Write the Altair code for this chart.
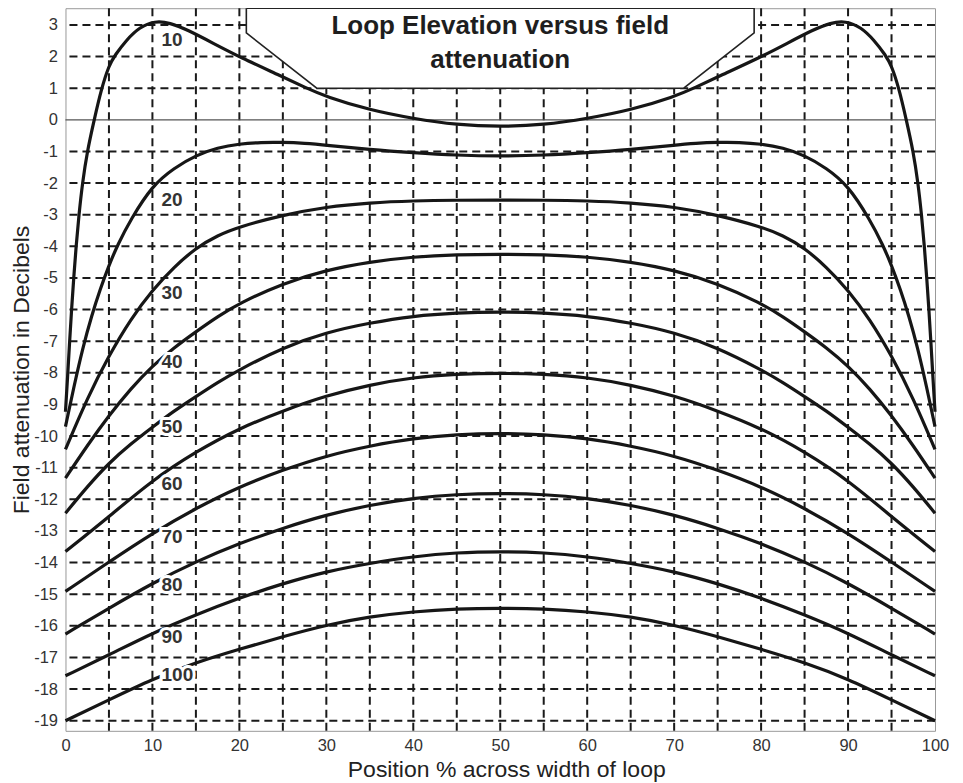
import altair as alt
import pandas as pd

# ---------------- data ----------------
X_10 = [0, 0.25, 0.48, 0.7, 0.95, 1.22, 1.55, 1.95, 2.5, 3.3, 4.15, 5, 5.7, 7, 8.5, 10.3, 12, 14, 17, 20,
        25, 27.5, 30, 35, 40, 45, 50, 55, 60, 65, 70, 72.5, 75, 80, 83, 86, 88, 89.7, 91.5, 93, 94.3, 95,
        95.85, 96.7, 97.5, 98.05, 98.45, 98.78, 99.05, 99.3, 99.52, 99.75, 100]
Y_10 = [-9.23, -8.1, -7, -6, -5, -4, -3, -2, -1, 0, 1, 1.72, 2.05, 2.52, 2.93, 3.13, 3.07, 2.85, 2.42, 1.99,
        1.36, 1.03, 0.73, 0.31, 0.04, -0.16, -0.22, -0.16, 0.04, 0.31, 0.73, 1.03, 1.36, 1.99, 2.42, 2.85,
        3.07, 3.13, 2.93, 2.52, 2.05, 1.72, 1, 0, -1, -2, -3, -4, -5, -6, -7, -8.1, -9.23]

X_20 = [0, 1, 2, 3, 4, 5, 6, 7.5, 10, 12.5, 15, 17.5, 20, 22.5, 25, 27.5, 30, 35, 40, 45, 50,
        55, 60, 65, 70, 72.5, 75, 77.5, 80, 82.5, 85, 87.5, 90, 92.5, 94, 95, 96, 97, 98, 99, 100]
Y_20 = [-9.70, -8.4, -7.2, -6.2, -5.35, -4.6, -3.95, -3.15, -2.07, -1.52, -1.12, -0.88, -0.76, -0.71,
        -0.71, -0.74, -0.80, -0.94, -1.04, -1.12, -1.15, -1.12, -1.04, -0.94, -0.80, -0.74, -0.71, -0.71,
        -0.76, -0.88, -1.12, -1.52, -2.07, -3.15, -3.95, -4.6, -5.35, -6.2, -7.2, -8.4, -9.70]

X_FINE = [0, 2.5, 5, 7.5, 10, 12.5, 15, 17.5, 20, 25, 30, 35, 40, 45, 50,
          55, 60, 65, 70, 75, 80, 82.5, 85, 87.5, 90, 92.5, 95, 97.5, 100]
Y_30 = [-10.42, -8.8, -7.45, -6.3, -5.38, -4.65, -4.05, -3.65, -3.38, -3.01, -2.75, -2.62, -2.56, -2.54,
        -2.54, -2.54, -2.56, -2.62, -2.75, -3.01, -3.38, -3.65, -4.05, -4.65, -5.38, -6.3, -7.45, -8.8, -10.42]
Y_40 = [-11.33, -10.3, -9.35, -8.5, -7.78, -7.2, -6.7, -6.22, -5.8, -5.17, -4.75, -4.49, -4.33, -4.26,
        -4.25, -4.26, -4.33, -4.49, -4.75, -5.17, -5.8, -6.22, -6.7, -7.2, -7.78, -8.5, -9.35, -10.3, -11.33]
Y_50 = [-12.44, -11.6, -10.85, -10.25, -9.72, -9.2, -8.75, -8.3, -7.9, -7.2, -6.72, -6.42, -6.2, -6.1,
        -6.07, -6.1, -6.2, -6.42, -6.72, -7.2, -7.9, -8.3, -8.75, -9.2, -9.72, -10.25, -10.85, -11.6, -12.44]

X_FIVE = [0, 5, 10, 15, 20, 25, 30, 35, 40, 45, 50, 55, 60, 65, 70, 75, 80, 85, 90, 95, 100]
Y_60 = [-13.65, -12.55, -11.39, -10.49, -9.75, -9.2, -8.72, -8.38, -8.14, -8.04, -8.01,
        -8.04, -8.14, -8.38, -8.72, -9.2, -9.75, -10.49, -11.39, -12.55, -13.65]
Y_70 = [-14.91, -13.98, -13.07, -12.28, -11.60, -11.07, -10.62, -10.31, -10.07, -9.95, -9.91,
        -9.95, -10.07, -10.31, -10.62, -11.07, -11.60, -12.28, -13.07, -13.98, -14.91]
Y_80 = [-16.26, -15.44, -14.65, -13.97, -13.39, -12.91, -12.49, -12.18, -11.96, -11.84, -11.81,
        -11.84, -11.96, -12.18, -12.49, -12.91, -13.39, -13.97, -14.65, -15.44, -16.26]
Y_90 = [-17.58, -16.92, -16.23, -15.65, -15.12, -14.66, -14.28, -14.02, -13.81, -13.68, -13.65,
        -13.68, -13.81, -14.02, -14.28, -14.66, -15.12, -15.65, -16.23, -16.92, -17.58]
Y_100 = [-19.0, -18.34, -17.68, -17.16, -16.74, -16.34, -15.97, -15.71, -15.55, -15.46, -15.44,
         -15.46, -15.55, -15.71, -15.97, -16.34, -16.74, -17.16, -17.68, -18.34, -19.0]

CURVE_NAMES = ["10", "20", "30", "40", "50", "60", "70", "80", "90", "100"]
CURVE_X = [X_10, X_20, X_FINE, X_FINE, X_FINE, X_FIVE, X_FIVE, X_FIVE, X_FIVE, X_FIVE]
CURVE_Y = [Y_10, Y_20, Y_30, Y_40, Y_50, Y_60, Y_70, Y_80, Y_90, Y_100]

LABEL_X = 11.05
LABEL_Y = [2.52, -2.52, -5.49, -7.65, -9.70, -11.50, -13.18, -14.71, -16.34, -17.55]

X_TICKS = [0, 10, 20, 30, 40, 50, 60, 70, 80, 90, 100]
Y_TICKS = list(range(-19, 4))
X_GRID = [5, 10, 15, 20, 25, 30, 35, 40, 45, 50, 55, 60, 65, 70, 75, 80, 85, 90, 95]
Y_GRID = [v for v in Y_TICKS if v != 0]

TITLE_LINES = ["Loop Elevation versus field", "attenuation"]
TITLE_Y = [2.71, 1.635]

Y_MIN, Y_MAX = -19.32, 3.53
BOX_X = [20.8, 28.9, 71.1, 79.2]
BOX_BOTTOM = [2.75, 1.0, 1.0, 2.75]
OUTLINE_X = [20.8, 20.8, 28.9, 71.1, 79.2, 79.2, 20.8]
OUTLINE_Y = [Y_MAX, 2.75, 1.0, 1.0, 2.75, Y_MAX, Y_MAX]

FONT = "Liberation Sans"

# ---------------- tables ----------------
rows = []
for name, xs, ys in zip(CURVE_NAMES, CURVE_X, CURVE_Y):
    for xv, yv in zip(xs, ys):
        rows.append({"curve": name, "x": xv, "y": yv})
curves_df = pd.DataFrame(rows)
labels_df = pd.DataFrame({"x": [LABEL_X] * len(CURVE_NAMES), "y": LABEL_Y, "text": CURVE_NAMES})
vgrid_df = pd.DataFrame({"x": X_GRID})
hgrid_df = pd.DataFrame({"y": Y_GRID})
zero_df = pd.DataFrame({"y": [0]})
box_df = pd.DataFrame({"x": BOX_X, "y": BOX_BOTTOM, "y2": [Y_MAX] * len(BOX_X)})
outline_df = pd.DataFrame({"x": OUTLINE_X, "y": OUTLINE_Y, "i": list(range(len(OUTLINE_X)))})
title_df = pd.DataFrame({"x": [50, 50], "y": TITLE_Y, "text": TITLE_LINES})

xscale = alt.Scale(domain=[0, 100], nice=False, zero=False)
yscale = alt.Scale(domain=[Y_MIN, Y_MAX], nice=False, zero=False)

xaxis = alt.Axis(values=X_TICKS, labelExpr="datum.value + ''", title="Position % across width of loop",
                 ticks=False, domain=False, grid=False, labelPadding=7, labelFlush=False,
                 labelFontSize=16.5, labelColor="#333333", labelFont=FONT,
                 titleFont=FONT, titleFontSize=23, titleFontWeight="normal", titleColor="#222222",
                 titleX=441, titleY=46, titleAlign="center", titleBaseline="alphabetic")
yaxis = alt.Axis(values=Y_TICKS, labelExpr="datum.value + ''", title="Field attenuation in Decibels",
                 ticks=False, domain=False, grid=False, labelPadding=8, labelFlush=False,
                 labelFontSize=16.5, labelColor="#333333", labelFont=FONT,
                 titleFont=FONT, titleFontSize=23, titleFontWeight="normal", titleColor="#222222",
                 titleAngle=270, titleX=-36.5, titleY=361.5, titleAlign="center",
                 titleBaseline="alphabetic")


def X():
    return alt.X("x:Q", scale=xscale, axis=xaxis)


def Y():
    return alt.Y("y:Q", scale=yscale, axis=yaxis)


vgrid = alt.Chart(vgrid_df).mark_rule(color="#1a1a1a", strokeWidth=2, strokeDash=[8, 5]).encode(x=X())
hgrid = alt.Chart(hgrid_df).mark_rule(color="#1a1a1a", strokeWidth=2, strokeDash=[8, 5]).encode(y=Y())
zero = alt.Chart(zero_df).mark_rule(color="#555555", strokeWidth=1.3).encode(y=Y())

box_fill = alt.Chart(box_df).mark_area(color="white", opacity=1).encode(x=X(), y=Y(), y2="y2:Q")
box_line = alt.Chart(outline_df).mark_line(color="#222222", strokeWidth=1.6).encode(
    x=X(), y=Y(), order="i:Q")

lines = alt.Chart(curves_df).mark_line(color="#161616", strokeWidth=3.2, interpolate="basis").encode(
    x=X(), y=Y(), detail="curve:N")

halo = alt.Chart(labels_df).mark_text(align="left", baseline="middle", font=FONT, fontSize=19,
                                      fontWeight="bold", stroke="white", strokeWidth=6,
                                      fill="white").encode(x=X(), y=Y(), text="text:N")
labels = alt.Chart(labels_df).mark_text(align="left", baseline="middle", font=FONT, fontSize=19,
                                        fontWeight="bold", color="#333333").encode(
    x=X(), y=Y(), text="text:N")

title = alt.Chart(title_df).mark_text(align="center", baseline="alphabetic", font=FONT, fontSize=26,
                                      fontWeight="bold", color="#1e1e1e").encode(
    x=X(), y=Y(), text="text:N")

chart = alt.layer(vgrid, hgrid, zero, box_fill, box_line, lines, halo, labels, title).properties(
    width=870, height=723,
    autosize=alt.AutoSizeParams(type="none"),
    padding={"left": 57.5, "top": 0, "right": 20, "bottom": 52},
).configure_view(stroke="#999999", strokeWidth=1)

chart.save("out.html", embed_options={"renderer": "svg", "actions": False})
